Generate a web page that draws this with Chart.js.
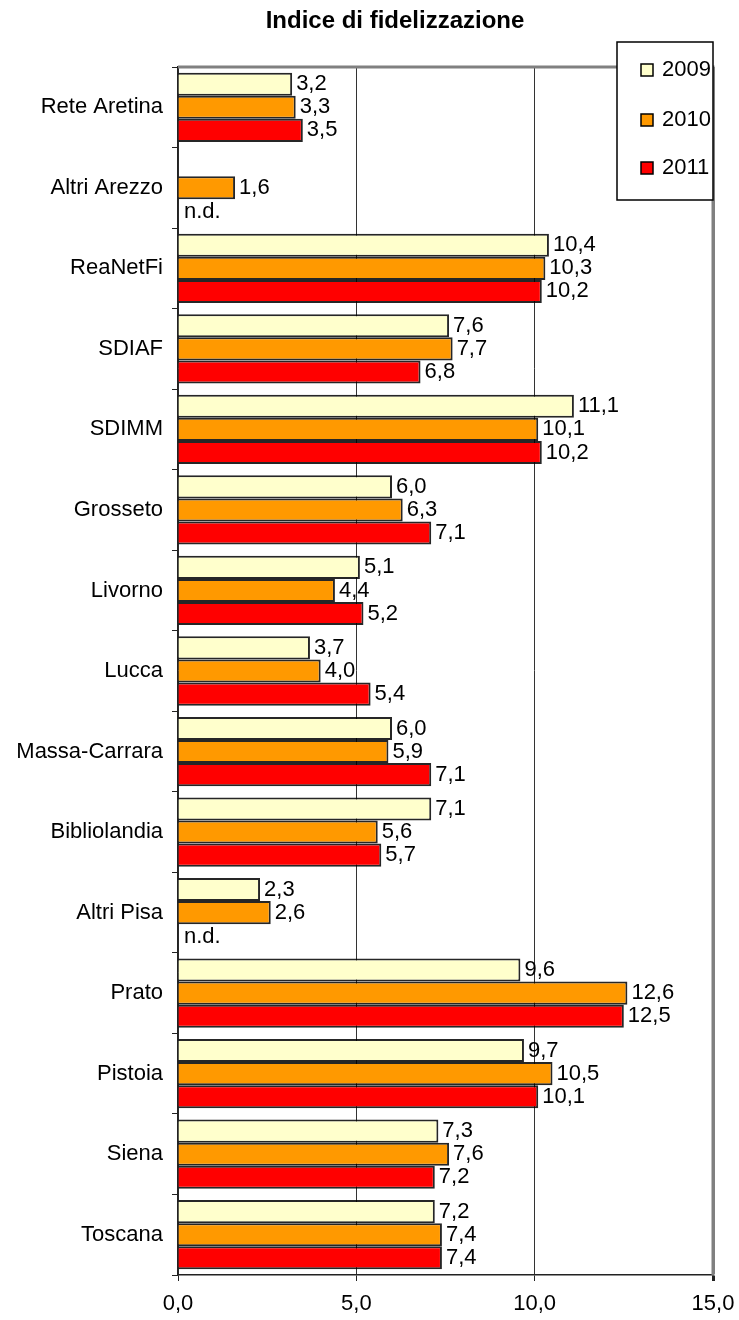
<!DOCTYPE html>
<html>
<head>
<meta charset="utf-8">
<script src="https://cdn.jsdelivr.net/npm/chart.js@4"></script>
<style>
  body { margin: 0; background: #fff; }
  canvas { display: block; }
</style>
</head>
<body>
<canvas id="chart" width="739" height="1320"></canvas>
<script>
const chartTitle = 'Indice di fidelizzazione';
const categories = ['Rete Aretina', 'Altri Arezzo', 'ReaNetFi', 'SDIAF', 'SDIMM', 'Grosseto', 'Livorno', 'Lucca',
    'Massa-Carrara', 'Bibliolandia', 'Altri Pisa', 'Prato', 'Pistoia', 'Siena', 'Toscana'];
const seriesNames = ['2009', '2010', '2011'];
const values2009 = [3.2, null, 10.4, 7.6, 11.1, 6.0, 5.1, 3.7, 6.0, 7.1, 2.3, 9.6, 9.7, 7.3, 7.2];
const values2010 = [3.3, 1.6, 10.3, 7.7, 10.1, 6.3, 4.4, 4.0, 5.9, 5.6, 2.6, 12.6, 10.5, 7.6, 7.4];
const values2011 = [3.5, null, 10.2, 6.8, 10.2, 7.1, 5.2, 5.4, 7.1, 5.7, null, 12.5, 10.1, 7.2, 7.4];
const xTickValues = [0, 5, 10, 15];
const missingText = 'n.d.';

const colors = ['#FFFFCC', '#FF9900', '#FF0000'];
const FONT = '"Liberation Sans", Arial, sans-serif';

function fmt(v) {
    return v.toFixed(1).replace('.', ',');
}

// etichette valori + n.d.
const valueLabels = {
    id: 'valueLabels',
    afterDatasetsDraw(chart) {
        const ctx = chart.ctx;
        ctx.save();
        ctx.font = '22px ' + FONT;
        ctx.fillStyle = '#000';
        ctx.textBaseline = 'middle';
        ctx.textAlign = 'left';
        chart.data.datasets.forEach((ds, di) => {
            const meta = chart.getDatasetMeta(di);
            meta.data.forEach((bar, i) => {
                const v = ds.data[i];
                if (v !== null) {
                    ctx.fillText(fmt(v), bar.x + 4, bar.y);
                } else if (di === 2) {
                    // slot 2011 sotto la barra 2010
                    const prev = chart.getDatasetMeta(1).data[i];
                    ctx.fillText(missingText, chart.chartArea.left + 6, prev.y + prev.height + 1);
                }
            });
        });
        ctx.restore();
    }
};

// bordo grigio sopra e a destra, titolo e legenda
const frame = {
    id: 'frame',
    beforeDatasetsDraw(chart) {
        const { ctx, chartArea: a } = chart;
        ctx.save();
        ctx.strokeStyle = '#808080';
        ctx.lineWidth = 3;
        ctx.beginPath();
        ctx.moveTo(a.left, a.top);
        ctx.lineTo(a.right, a.top);
        ctx.lineTo(a.right, a.bottom);
        ctx.stroke();
        ctx.restore();
    },
    afterDraw(chart) {
        const ctx = chart.ctx;
        ctx.save();
        ctx.fillStyle = '#000';
        ctx.font = 'bold 24px ' + FONT;
        ctx.textAlign = 'center';
        ctx.textBaseline = 'middle';
        ctx.fillText(chartTitle, 395, 21);

        // legenda
        ctx.fillStyle = '#fff';
        ctx.fillRect(617, 42, 96, 158);
        ctx.strokeStyle = '#000';
        ctx.lineWidth = 1.5;
        ctx.strokeRect(617, 42, 96, 158);
        const rows = [70, 120, 168];
        ctx.font = '22px ' + FONT;
        ctx.textAlign = 'left';
        seriesNames.forEach((name, i) => {
            ctx.fillStyle = colors[i];
            ctx.fillRect(641, rows[i] - 6, 12, 12);
            ctx.strokeRect(641, rows[i] - 6, 12, 12);
            ctx.fillStyle = '#000';
            ctx.fillText(name, 662, rows[i]);
        });
        ctx.restore();
    }
};

const ctx = document.getElementById('chart').getContext('2d');
const chart = new Chart(ctx, {
    type: 'bar',
    data: {
        labels: categories,
        datasets: [
            { label: seriesNames[0], data: values2009, backgroundColor: colors[0] },
            { label: seriesNames[1], data: values2010, backgroundColor: colors[1] },
            { label: seriesNames[2], data: values2011, backgroundColor: colors[2] }
        ]
    },
    options: {
        indexAxis: 'y',
        responsive: false,
        animation: false,
        devicePixelRatio: 1,
        layout: { padding: { top: 67, right: 26, left: 0, bottom: 0 } },
        datasets: {
            bar: {
                borderColor: 'rgba(0,0,0,0.85)',
                borderWidth: 2,
                categoryPercentage: 0.86,
                barPercentage: 1.0
            }
        },
        plugins: {
            legend: { display: false },
            title: { display: false },
            tooltip: { enabled: false }
        },
        scales: {
            x: {
                min: 0,
                max: 15,
                afterBuildTicks: (scale) => {
                    scale.ticks = xTickValues.map(v => ({ value: v }));
                },
                afterFit: (scale) => {
                    scale.height = 45;
                    scale.paddingLeft = 0;
                    scale.paddingRight = 0;
                },
                border: { color: '#222', width: 1.5 },
                grid: {
                    color: (c) => c.index === 3 ? '#808080' : '#333',
                    lineWidth: (c) => c.index === 3 ? 3 : 1,
                    tickColor: '#222',
                    tickLength: 6
                },
                ticks: {
                    padding: 10,
                    maxRotation: 0,
                    color: '#000',
                    font: { family: FONT, size: 22 },
                    callback: (v) => fmt(v)
                }
            },
            y: {
                afterFit: (scale) => { scale.width = 178; },
                border: { color: '#222', width: 1.5 },
                grid: {
                    drawOnChartArea: false,
                    tickColor: '#222',
                    tickLength: 6
                },
                ticks: {
                    padding: 9,
                    color: '#000',
                    font: { family: FONT, size: 22 }
                }
            }
        }
    },
    plugins: [frame, valueLabels]
});
</script>
</body>
</html>
